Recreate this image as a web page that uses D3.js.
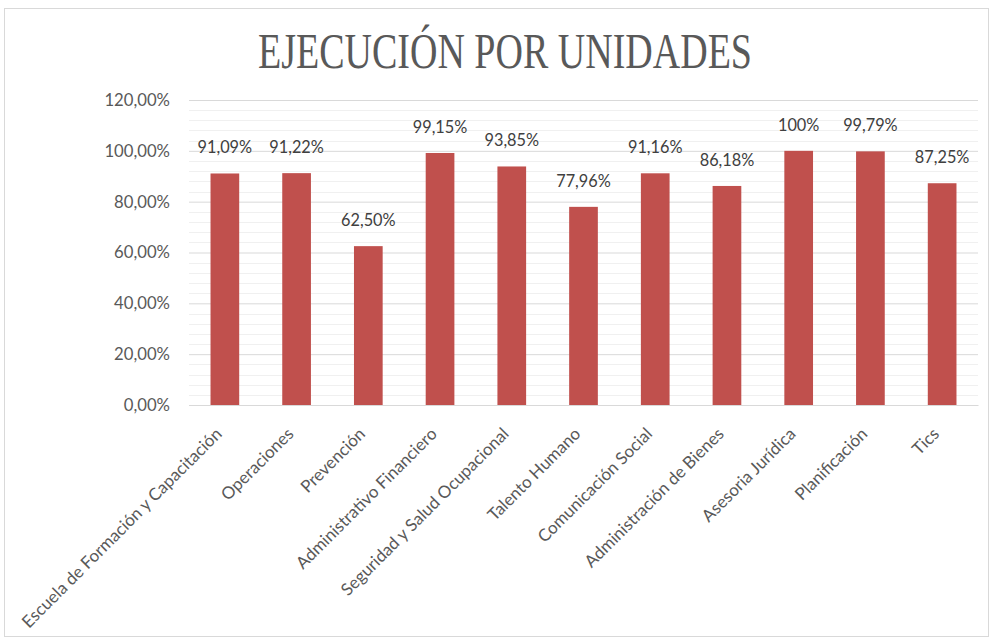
<!DOCTYPE html>
<html>
<head>
<meta charset="utf-8">
<script src="https://cdn.jsdelivr.net/npm/d3@7"></script>
<style>
  body { margin: 0; background: #fff; }
  svg { display: block; }
</style>
</head>
<body>
<div id="chart"></div>
<script>
const categories = ["Escuela de Formación y Capacitación", "Operaciones", "Prevención",
  "Administrativo Financiero", "Seguridad y Salud Ocupacional", "Talento Humano",
  "Comunicación Social", "Administración de Bienes", "Asesoria Jurídica", "Planificación", "Tics"];
const values = [0.9109, 0.9122, 0.625, 0.9915, 0.9385, 0.7796, 0.9116, 0.8618, 1.0, 0.9979, 0.8725];
const valueLabels = ["91,09%", "91,22%", "62,50%", "99,15%", "93,85%", "77,96%", "91,16%", "86,18%", "100%", "99,79%", "87,25%"];
const yTicks = [0, 0.2, 0.4, 0.6, 0.8, 1.0, 1.2];
const title = "EJECUCIÓN POR UNIDADES";

const W = 993, H = 641;
const plot = {left: 189, right: 978, top: 100, bottom: 405};
const font = "Lato, 'Open Sans', sans-serif";

const svg = d3.select("#chart").append("svg")
  .attr("width", W).attr("height", H);

// chart frame
svg.append("rect")
  .attr("x", 4.5).attr("y", 8.5).attr("width", W - 9).attr("height", H - 13)
  .attr("fill", "#fff").attr("stroke", "#d9d9d9");

const x = d3.scaleBand().domain(categories).range([plot.left, plot.right]).paddingInner(0.6).paddingOuter(0.3);
const y = d3.scaleLinear().domain([0, 1.2]).range([plot.bottom, plot.top]);

// minor gridlines every 4%
svg.append("g").selectAll("line")
  .data(d3.range(0, 31).map(i => i * 0.04).filter(v => !yTicks.some(t => Math.abs(t - v) < 1e-6)))
  .join("line")
  .attr("x1", plot.left).attr("x2", plot.right)
  .attr("y1", d => Math.round(y(d)) + 0.5).attr("y2", d => Math.round(y(d)) + 0.5)
  .attr("stroke", "#f0f0f0");

// major gridlines + labels
const yAxis = svg.append("g")
  .attr("transform", `translate(${plot.left},0)`)
  .call(d3.axisLeft(y).tickValues(yTicks).tickSize(-(plot.right - plot.left)).tickPadding(19)
    .tickFormat(d => d3.format(".2f")(d * 100).replace(".", ",") + "%"));
yAxis.select(".domain").remove();
yAxis.selectAll(".tick line").attr("stroke", "#d9d9d9");
yAxis.selectAll(".tick text")
  .attr("fill", "#595959")
  .style("font-family", font)
  .style("font-size", "16.7px");

// bars
svg.append("g").selectAll("rect")
  .data(categories)
  .join("rect")
  .attr("x", d => x(d))
  .attr("width", x.bandwidth())
  .attr("y", (d, i) => y(values[i]))
  .attr("height", (d, i) => y(0) - y(values[i]))
  .attr("fill", "#c0504d");

// value labels
svg.append("g").selectAll("text")
  .data(categories)
  .join("text")
  .attr("x", d => x(d) + x.bandwidth() / 2)
  .attr("y", (d, i) => y(values[i]) - 20)
  .attr("text-anchor", "middle")
  .attr("fill", "#404040")
  .style("font-family", font)
  .style("font-size", "16.3px")
  .text((d, i) => valueLabels[i]);

// x axis
const xAxis = svg.append("g")
  .attr("transform", `translate(0,${plot.bottom})`)
  .call(d3.axisBottom(x).tickSize(0).tickPadding(0));
xAxis.select(".domain").attr("stroke", "#d9d9d9");
xAxis.selectAll(".tick text")
  .attr("fill", "#595959")
  .style("font-family", font)
  .style("font-size", "17px")
  .attr("text-anchor", "end")
  .attr("dy", null)
  .attr("transform", "translate(-2,30) rotate(-45)");

// title
svg.append("text")
  .attr("x", (258 + 752) / 2).attr("y", 68)
  .attr("text-anchor", "middle")
  .attr("fill", "#595959")
  .attr("textLength", 494)
  .attr("lengthAdjust", "spacingAndGlyphs")
  .style("font-family", "'Liberation Serif', 'DejaVu Serif', serif")
  .style("font-size", "50px")
  .text(title);
</script>
</body>
</html>
